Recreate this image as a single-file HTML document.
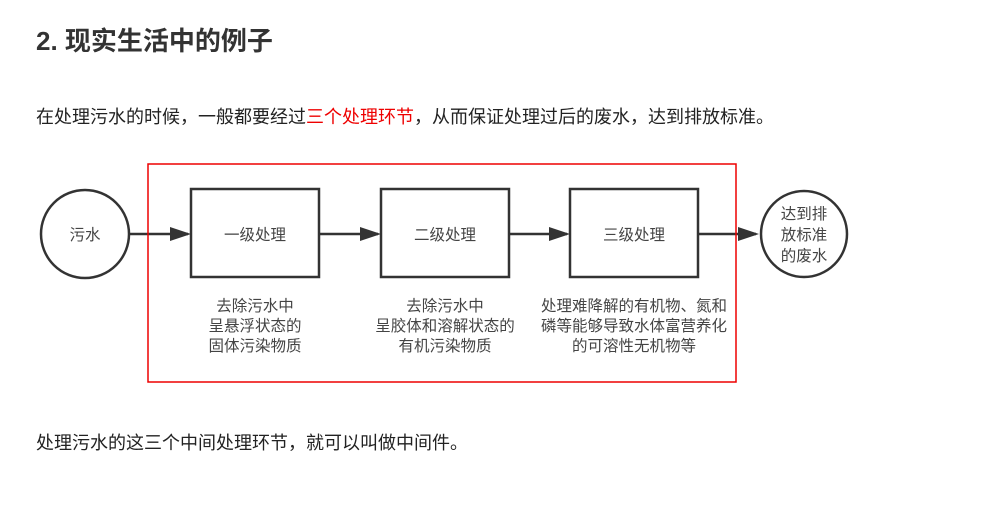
<!DOCTYPE html>
<html><head><meta charset="utf-8"><style>
body{margin:0;width:989px;height:515px;background:#fff;font-family:"Liberation Sans","Noto Sans CJK SC",sans-serif;position:relative;overflow:hidden}
.t{position:absolute;white-space:nowrap}
</style></head><body>
<div class="t" style="left:36px;top:21px;font-size:26px;font-weight:bold;color:#333">2. 现实生活中的例子</div>
<div class="t" style="left:36px;top:103px;font-size:18px;color:#222">在处理污水的时候，一般都要经过<span style="color:#e00">三个处理环节</span>，从而保证处理过后的废水，达到排放标准。</div>
<svg width="989" height="515" style="position:absolute;left:0;top:0" font-family="Liberation Sans, Noto Sans CJK SC, sans-serif">
<g stroke="#333" stroke-width="2.5" fill="none">
<circle cx="85" cy="234" r="44"/>
<circle cx="804" cy="234" r="43"/>
<rect x="191" y="189" width="128" height="88"/>
<rect x="381" y="189" width="128" height="88"/>
<rect x="570" y="189" width="128" height="88"/>
</g>
<g stroke="#333" stroke-width="2.5">
<line x1="130" y1="234" x2="188" y2="234"/>
<line x1="319" y1="234" x2="378" y2="234"/>
<line x1="509" y1="234" x2="567" y2="234"/>
<line x1="698" y1="234" x2="756" y2="234"/>
</g>
<g fill="#333">
<path d="M170,227 L191,234 L170,241z"/>
<path d="M360,227 L381,234 L360,241z"/>
<path d="M549,227 L570,234 L549,241z"/>
<path d="M738,227 L759,234 L738,241z"/>
</g>
<rect x="148" y="164" width="588" height="218" fill="none" stroke="#e00" stroke-width="1.5"/>
<g font-size="15.5" fill="#444" text-anchor="middle">
<text x="85" y="240">污水</text>
<text x="255" y="240">一级处理</text>
<text x="445" y="240">二级处理</text>
<text x="634" y="240">三级处理</text>
<text x="804" y="219">达到排</text>
<text x="804" y="240">放标准</text>
<text x="804" y="261">的废水</text>
<text x="255" y="311">去除污水中</text>
<text x="255" y="331">呈悬浮状态的</text>
<text x="255" y="351">固体污染物质</text>
<text x="445" y="311">去除污水中</text>
<text x="445" y="331">呈胶体和溶解状态的</text>
<text x="445" y="351">有机污染物质</text>
<text x="634" y="311">处理难降解的有机物、氮和</text>
<text x="634" y="331">磷等能够导致水体富营养化</text>
<text x="634" y="351">的可溶性无机物等</text>
</g>
</svg>
<div class="t" style="left:36px;top:429px;font-size:18px;color:#222">处理污水的这三个中间处理环节，就可以叫做中间件。</div>
</body></html>
